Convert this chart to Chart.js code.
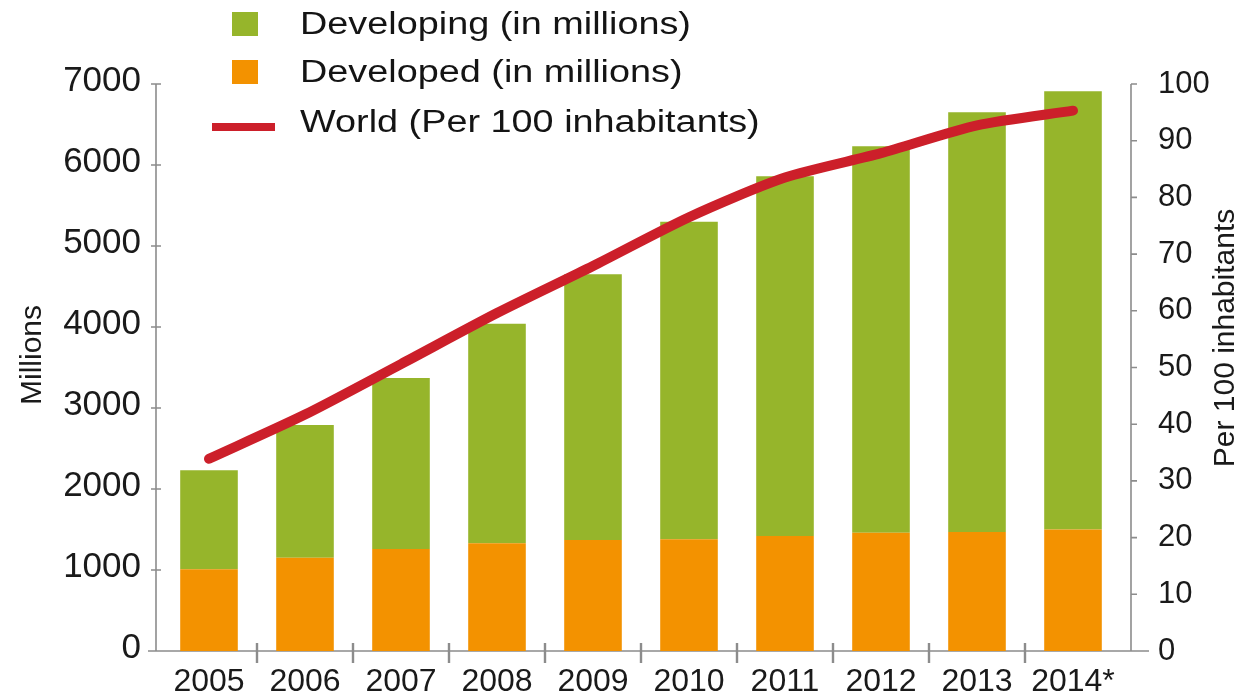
<!DOCTYPE html>
<html>
<head>
<meta charset="utf-8">
<script src="https://cdn.jsdelivr.net/npm/chart.js@4.4.1/dist/chart.umd.min.js"></script>
<style>
  html, body { margin: 0; padding: 0; background: #ffffff; }
  #wrap { position: relative; width: 1249px; height: 696px; overflow: hidden; }
  #c { position: absolute; left: 0; top: 0; }
  .lg { position: absolute; left: 0; top: 0; font-family: "Liberation Sans", Arial, sans-serif; color: #141414; }
  .lg-sym { position: absolute; }
  .lg-txt { position: absolute; left: 300px; white-space: nowrap; font-size: 31px; line-height: 36px;
            transform: scaleX(1.22); transform-origin: 0 50%; }
</style>
</head>
<body>
<div id="wrap">
  <canvas id="c" width="1249" height="696"></canvas>
  <div class="lg" id="legend"></div>
</div>
<script>
// ---- data ----
const years = ["2005", "2006", "2007", "2008", "2009", "2010", "2011", "2012", "2013", "2014*"];
const developed = [1010, 1150, 1260, 1330, 1370, 1380, 1420, 1460, 1470, 1500];
const developing = [1220, 1640, 2110, 2710, 3280, 3920, 4440, 4770, 5180, 5410];
const worldPer100 = [33.9, 41.7, 50.6, 59.6, 67.9, 76.5, 83.5, 87.8, 92.7, 95.3];
const seriesNames = ["Developing (in millions)", "Developed (in millions)", "World (Per 100 inhabitants)"];
const leftTicksMax = 7000, leftStep = 1000;
const rightTicksMax = 100, rightStep = 10;
const leftTitle = "Millions";
const rightTitle = "Per 100 inhabitants";

const GREEN = '#96b52b', ORANGE = '#f39200', RED = '#cc1f2a', AXIS = '#8c8c8c', TXT = '#1a1a1a';
const FONT = '"Liberation Sans", Arial, sans-serif';

const axesPlugin = {
  id: 'customAxes',
  beforeDatasetsDraw(chart) {
    const { ctx, chartArea, scales } = chart;
    const y = scales.y, y1 = scales.y1, x = scales.x;
    const base = y.getPixelForValue(0);
    const lx = chartArea.left - 5, rx = chartArea.right + 10;
    ctx.save();
    ctx.strokeStyle = AXIS;
    ctx.lineWidth = 1.6;
    ctx.beginPath();
    ctx.moveTo(lx, y.getPixelForValue(leftTicksMax)); ctx.lineTo(lx, base);
    ctx.moveTo(rx, y1.getPixelForValue(rightTicksMax)); ctx.lineTo(rx, base);
    ctx.moveTo(lx - 8, base); ctx.lineTo(rx + 18, base);
    y.ticks.forEach(t => { const py = y.getPixelForValue(t.value); ctx.moveTo(lx - 5, py); ctx.lineTo(lx + 5, py); });
    y1.ticks.forEach(t => { const py = y1.getPixelForValue(t.value); ctx.moveTo(rx, py); ctx.lineTo(rx + 6, py); });
    ctx.stroke();
    ctx.lineWidth = 2.4;
    ctx.beginPath();
    for (let i = 1; i < x.ticks.length; i++) {
      const px = (x.getPixelForTick(i - 1) + x.getPixelForTick(i)) / 2;
      ctx.moveTo(px, base - 8); ctx.lineTo(px, base + 12);
    }
    ctx.stroke();
    ctx.restore();
  },
  afterDraw(chart) {
    const { ctx } = chart;
    [[leftTitle, 33, 355], [rightTitle, 1226, 338]].forEach(([txt, cx, cy]) => {
      ctx.save();
      ctx.fillStyle = TXT;
      ctx.font = '30px ' + FONT;
      ctx.textAlign = 'center';
      ctx.textBaseline = 'middle';
      ctx.translate(cx, cy); ctx.rotate(-Math.PI / 2); ctx.fillText(txt, 0, 0);
      ctx.restore();
    });
  }
};

const chart = new Chart(document.getElementById('c'), {
  type: 'bar',
  data: {
    labels: years,
    datasets: [
      { type: 'line', label: seriesNames[2], data: worldPer100, yAxisID: 'y1', order: 0,
        borderColor: RED, backgroundColor: RED, borderWidth: 10, pointRadius: 0, tension: 0.25,
        borderCapStyle: 'round', borderJoinStyle: 'round', fill: false },
      { label: seriesNames[1], data: developed, backgroundColor: ORANGE, yAxisID: 'y', order: 1,
        barPercentage: 0.6, categoryPercentage: 1.0, borderWidth: 0 },
      { label: seriesNames[0], data: developing, backgroundColor: GREEN, yAxisID: 'y', order: 1,
        barPercentage: 0.6, categoryPercentage: 1.0, borderWidth: 0 }
    ]
  },
  options: {
    responsive: false,
    animation: false,
    devicePixelRatio: 1,
    layout: { padding: { top: 84, bottom: 0, left: 0, right: 0 } },
    plugins: { legend: { display: false }, tooltip: { enabled: false }, title: { display: false } },
    scales: {
      x: {
        stacked: true, offset: true,
        grid: { display: false }, border: { display: false },
        ticks: { color: TXT, padding: 4, font: { family: FONT, size: 32 }, maxRotation: 0, autoSkip: false },
        afterFit(s) { s.height = 45; }
      },
      y: {
        position: 'left', stacked: true, min: 0, max: leftTicksMax,
        grid: { display: false }, border: { display: false },
        ticks: { stepSize: leftStep, color: TXT, padding: 12, labelOffset: -3,
                 font: { family: FONT, size: 35, lineHeight: 0.5 },
                 callback: v => String(v) },
        afterFit(s) { s.width = 161; }
      },
      y1: {
        position: 'right', min: 0, max: rightTicksMax,
        grid: { display: false }, border: { display: false },
        ticks: { stepSize: rightStep, color: TXT, padding: 29,
                 font: { family: FONT, size: 31, lineHeight: 0.5 },
                 callback: v => String(v) },
        afterFit(s) { s.width = 128; }
      }
    }
  },
  plugins: [axesPlugin]
});

// HTML legend built from the chart's datasets
(function buildLegend() {
  const lg = document.getElementById('legend');
  const byLabel = {};
  chart.data.datasets.forEach(d => { byLabel[d.label] = d; });
  const rows = [
    { name: seriesNames[0], kind: 'box', cy: 24 },
    { name: seriesNames[1], kind: 'box', cy: 72 },
    { name: seriesNames[2], kind: 'line', cy: 122 }
  ];
  rows.forEach(r => {
    const ds = byLabel[r.name];
    const sym = document.createElement('div');
    sym.className = 'lg-sym';
    if (r.kind === 'box') {
      sym.style.left = '232px'; sym.style.top = (r.cy - 12) + 'px';
      sym.style.width = '26px'; sym.style.height = '24px';
      sym.style.background = ds.backgroundColor;
    } else {
      sym.style.left = '212px'; sym.style.top = (r.cy + 1) + 'px';
      sym.style.width = '63px'; sym.style.height = '8px';
      sym.style.background = ds.borderColor;
    }
    lg.appendChild(sym);
    const t = document.createElement('div');
    t.className = 'lg-txt';
    t.style.top = (r.cy - 18) + 'px';
    t.textContent = r.name;
    lg.appendChild(t);
  });
})();
</script>
</body>
</html>
